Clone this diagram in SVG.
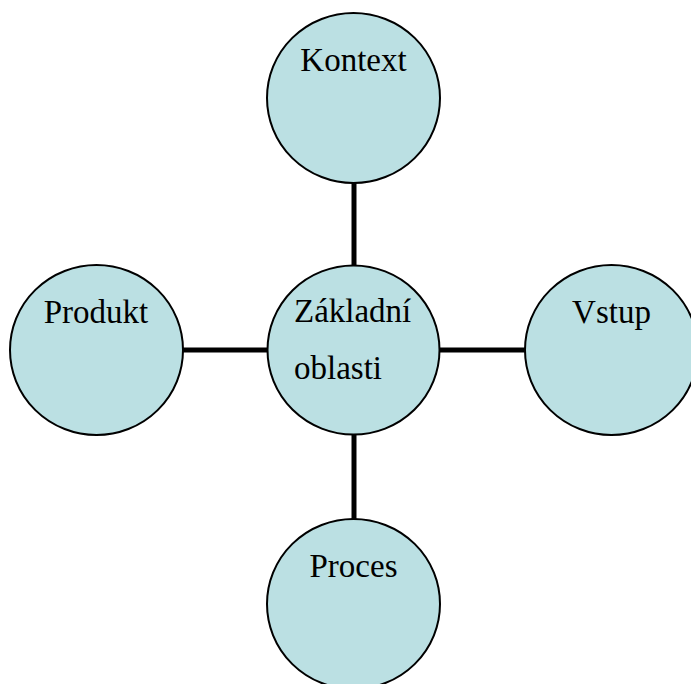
<svg xmlns="http://www.w3.org/2000/svg" width="691" height="684" viewBox="0 0 691 684">
<style>
.n{fill:#BBE0E3;stroke:#000;stroke-width:2}
.c{stroke:#000;stroke-width:5;fill:none}
.t{font-family:"Liberation Serif","Times New Roman",serif;font-size:33px;fill:#000}
</style>
<rect width="691" height="684" fill="#fff"/>
<g id="connectors">
<line class="c" x1="354" y1="182" x2="354" y2="267"/>
<line class="c" x1="354" y1="434" x2="354" y2="520"/>
<line class="c" x1="182" y1="350" x2="268" y2="350"/>
<line class="c" x1="439" y1="350" x2="526" y2="350"/>
</g>
<g id="kontext">
<ellipse class="n" cx="353.5" cy="98" rx="86.5" ry="85"/>
<text class="t" x="353.5" y="71" text-anchor="middle">Kontext</text>
</g>
<g id="zakladni">
<ellipse class="n" cx="353.5" cy="350" rx="86" ry="84.5"/>
<text class="t" x="294" y="322">Základní</text>
<text class="t" x="294" y="379">oblasti</text>
</g>
<g id="produkt">
<ellipse class="n" cx="96.5" cy="350" rx="86.5" ry="85"/>
<text class="t" x="96" y="323" text-anchor="middle">Produkt</text>
</g>
<g id="vstup">
<ellipse class="n" cx="611.5" cy="350" rx="86.5" ry="85"/>
<text class="t" x="611.5" y="323" text-anchor="middle">Vstup</text>
</g>
<g id="proces">
<ellipse class="n" cx="353.5" cy="604" rx="86.5" ry="85"/>
<text class="t" x="353.5" y="577" text-anchor="middle">Proces</text>
</g>
</svg>
